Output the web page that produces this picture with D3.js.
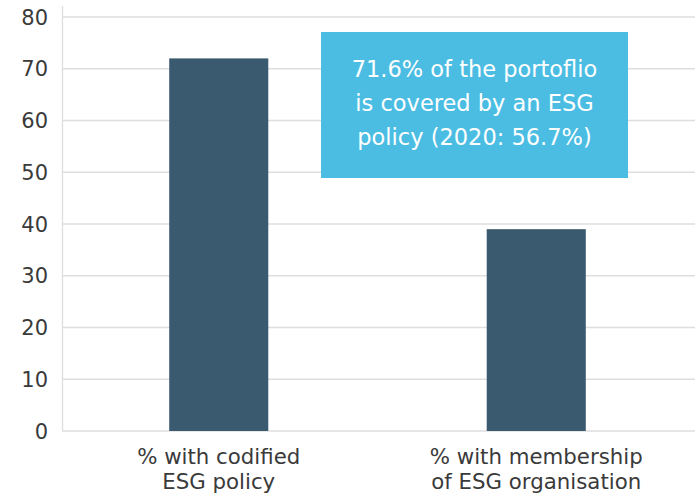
<!DOCTYPE html>
<html lang="en">
<head>
  <meta charset="UTF-8"/>
  <title>ESG policy coverage</title>
  <style>
    *{margin:0;padding:0;box-sizing:border-box}
    body{background:#fff;font-family:"DejaVu Sans",sans-serif}
    svg{display:block}
  </style>
</head>
<body>
  <div id="chart"></div>
  <script src="https://d3js.org/d3.v7.min.js"></script>
  <script>
    // data
    const categories = [['% with codified','ESG policy'], ['% with membership','of ESG organisation']];
    const values = [72, 39];
    const yTicks = [0,10,20,30,40,50,60,70,80];
    const note = ['71.6% of the portoflio','is covered by an ESG','policy (2020: 56.7%)'];

    const width=695, height=495;
    const svg = d3.select('#chart').append('svg')
      .attr('width',width).attr('height',height);

    const x = d3.scaleBand().domain(d3.range(values.length)).range([60,695])
      .paddingInner(0.688).paddingOuter(0.344);
    const y = d3.scaleLinear().domain([0,80]).range([431,17]);

    // gridlines
    svg.append('g').selectAll('line').data(yTicks).join('line')
      .attr('x1',62).attr('x2',width)
      .attr('y1',d=>y(d)).attr('y2',d=>y(d))
      .attr('stroke','#dedede').attr('stroke-width',1.3);

    // y axis line
    svg.append('line').attr('x1',62.5).attr('x2',62.5).attr('y1',6).attr('y2',y(0))
      .attr('stroke','#dedede').attr('stroke-width',1.3);

    // tick labels
    svg.append('g').selectAll('text').data(yTicks).join('text')
      .attr('x',48).attr('y',d=>y(d)).attr('dy','0.36em')
      .attr('text-anchor','end').attr('fill','#3a3a3a')
      .style('font-size','21px')
      .text(d=>d);

    // bars
    svg.append('g').selectAll('rect').data(values).join('rect')
      .attr('x',(d,i)=>x(i)).attr('width',x.bandwidth())
      .attr('y',d=>y(d)).attr('height',d=>y(0)-y(d))
      .attr('fill','#3a5a70');

    // category labels
    const cl = svg.append('g').selectAll('text').data(categories).join('text')
      .attr('text-anchor','middle').attr('fill','#3a3a3a')
      .style('font-size','21.3px');
    cl.selectAll('tspan').data((d,i)=>d.map(t=>({t,i}))).join('tspan')
      .attr('x',d=>x(d.i)+x.bandwidth()/2)
      .attr('y',(d,j)=>464+j*25)
      .text(d=>d.t);

    // annotation box
    svg.append('rect').attr('x',321).attr('y',32).attr('width',307).attr('height',146)
      .attr('fill','#4bbde3');
    svg.append('g').selectAll('text').data(note).join('text')
      .attr('x',474.5).attr('y',(d,i)=>77+i*34)
      .attr('text-anchor','middle').attr('fill','#fff')
      .style('font-size','22.5px')
      .text(d=>d);
  </script>
</body>
</html>
